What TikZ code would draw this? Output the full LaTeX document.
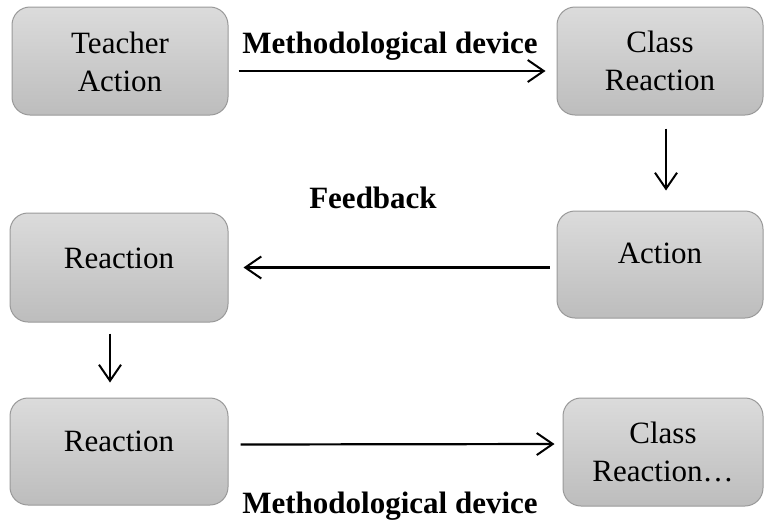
\documentclass[tikz,border=0pt]{standalone}
\usepackage{fontspec}
\setmainfont{Liberation Serif}
\usetikzlibrary{arrows.meta}
\begin{document}
\begin{tikzpicture}[x=1pt,y=-1pt,
  stagebox/.style={draw=black!40, line width=1pt, rounded corners=18pt,
    top color=black!14, bottom color=black!26, inner sep=0pt},
  boxtext/.style={font=\fontsize{31}{38}\selectfont, align=center, inner sep=0pt},
  flowlabel/.style={font=\fontsize{31}{38}\selectfont\bfseries, inner sep=0pt, anchor=base},
  flow/.style={line width=2.2pt, -{Straight Barb[length=16pt,width=22pt,line width=2pt]}}]
\useasboundingbox (0,0) rectangle (765,520);

% boxes
\node[stagebox, minimum width=216pt, minimum height=108pt] (b1) at (120,61) {};
\node[stagebox, minimum width=206pt, minimum height=108pt] (b2) at (660,61) {};
\node[stagebox, minimum width=206pt, minimum height=107pt] (b3) at (660,264.5) {};
\node[stagebox, minimum width=218pt, minimum height=109pt] (b4) at (119,267.5) {};
\node[stagebox, minimum width=218pt, minimum height=107pt] (b5) at (119,451.5) {};
\node[stagebox, minimum width=200pt, minimum height=108pt] (b6) at (663,452) {};

% box texts
\node[boxtext, anchor=north] (t1) at (120,32) {Teacher\\Action};
\node[boxtext, anchor=north] (t2) at (660,31) {Class\\Reaction};
\node[boxtext, anchor=base] (t3) at (660,263) {Action};
\node[boxtext, anchor=base] (t4) at (119,268) {Reaction};
\node[boxtext, anchor=base] (t5) at (119,451) {Reaction};
\node[boxtext, anchor=north] (t6) at (663,422) {Class\\Reaction\ldots};

% labels
\node[flowlabel] (l1) at (390,53) {Methodological device};
\node[flowlabel] (l2) at (373,208) {Feedback};
\node[flowlabel] (l3) at (390,513) {Methodological device};

% connectors
\draw[flow] ([shift={(10,10)}]b1.east) -- ([shift={(-11,10)}]b2.west);
\draw[flow] ([shift={(6,13)}]b2.south) -- ([shift={(6,-20)}]b3.north);
\draw[flow] ([shift={(-7,3)}]b3.west) -- ([shift={(15,0)}]b4.east);
\draw[flow] ([shift={(-9,11)}]b4.south) -- ([shift={(-9,-15)}]b5.north);
\draw[flow] ([shift={(12,-7)}]b5.east) -- ([shift={(-8,-8)}]b6.west);
\end{tikzpicture}
\end{document}
